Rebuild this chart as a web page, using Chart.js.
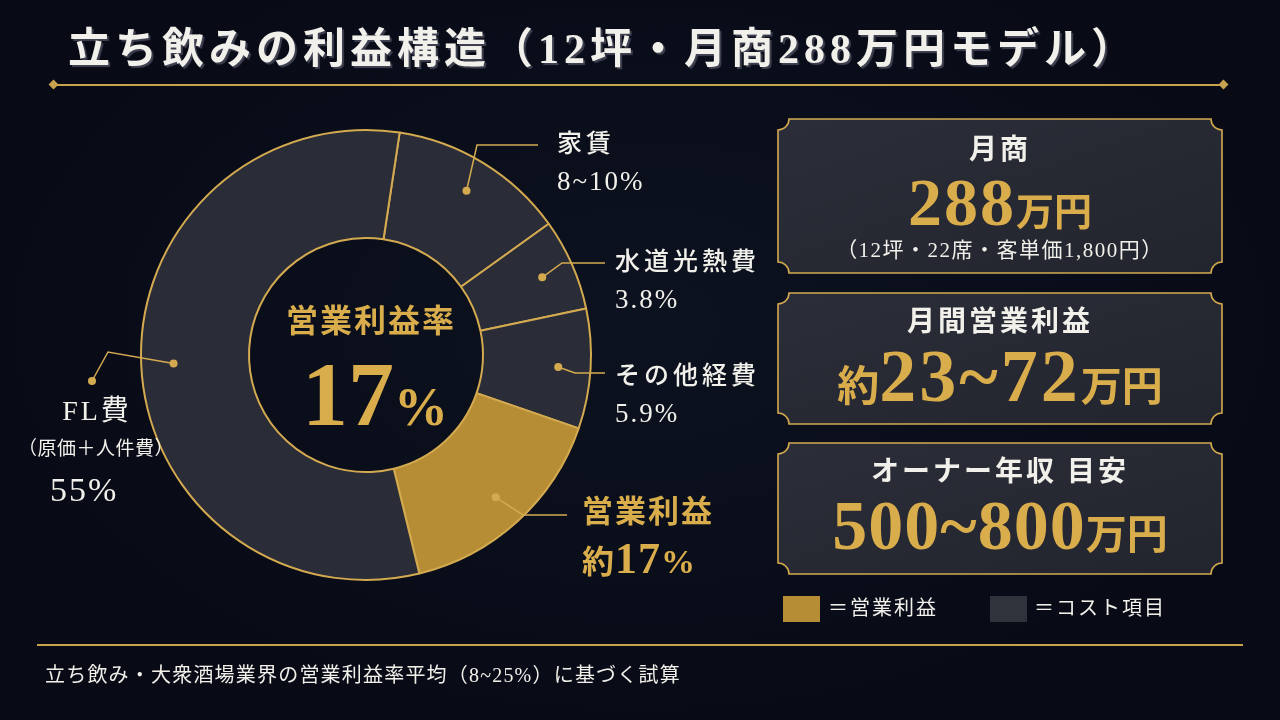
<!DOCTYPE html>
<html lang="ja">
<head>
<meta charset="utf-8">
<script src="https://cdn.jsdelivr.net/npm/chart.js"></script>
<style>
  html, body { margin: 0; padding: 0; background: #090d19; }
  #page { position: relative; width: 1280px; height: 720px; overflow: hidden;
    background: radial-gradient(ellipse at 50% 45%, #0d1220 0%, #080b16 75%);
    font-family: 'Liberation Serif', 'Noto Sans CJK JP', serif; color: #f2f0ea; }
  #chartBox { position: absolute; left: 0; top: 0; width: 1280px; height: 720px; }
  .t { position: absolute; white-space: nowrap; line-height: 1; }
  .gold { color: #d9ad4c; }
  .title { left: 68px; top: 28px; font-size: 42px; font-weight: 700; letter-spacing: 5px;
    text-shadow: 2px 2px 1px rgba(110,110,130,.55); }
  .hr { position: absolute; height: 2px; background: #c9a24e; }
  .diamond { position: absolute; width: 7px; height: 7px; background: #c9a24e; transform: rotate(45deg); }
  .lab { font-size: 25px; font-weight: 500; letter-spacing: 4px; }
  .pct { font-size: 27px; letter-spacing: 2px; }
  .box { position: absolute; }
  .box svg { position: absolute; left: 0; top: 0; }
  .box .in { position: absolute; left: 0; top: 0; width: 100%; text-align: center; }
  .head { font-size: 28px; font-weight: 700; letter-spacing: 3px; }
  .big { font-weight: 700; }
  .legend { font-size: 20px; letter-spacing: 2px; }
  .sw { position: absolute; width: 37px; height: 26px; }
</style>
</head>
<body>
<div id="page">
  <div id="chartBox"><canvas id="pie"></canvas></div>
</div>
<script>
// values (slice sizes as drawn, labels as printed)
const categories = ['家賃', '水道光熱費', 'その他経費', '営業利益', 'FL費'];
const drawnShares = [12.7, 6.6, 8.6, 15.9, 56.2];
const shareLabels = ['8~10%', '3.8%', '5.9%', '約17%', '55%'];
const profitRate = '17%';
const sliceColors = ['#2a2d37', '#2a2d37', '#2a2d37', '#b68d35', '#2a2d37'];

const cards = [
  { head: '月商', value: '288', unit: '万円', note: '（12坪・22席・客単価1,800円）' },
  { head: '月間営業利益', pre: '約', value: '23~72', unit: '万円' },
  { head: 'オーナー年収 目安', value: '500~800', unit: '万円' }
];
const legendItems = ['＝営業利益', '＝コスト項目'];
const titleText = '立ち飲みの利益構造（12坪・月商288万円モデル）';
const footText = '立ち飲み・大衆酒場業界の営業利益率平均（8~25%）に基づく試算';

const GOLD = '#d4aa50';
const page = document.getElementById('page');

function add(html) {
  page.insertAdjacentHTML('beforeend', html);
}

// title + rules
add(`<div class="t title">${titleText}</div>`);
add(`<div class="hr" style="left:56px;top:84px;width:1168px;"></div>`);
add(`<div class="diamond" style="left:50px;top:81px;"></div>`);
add(`<div class="diamond" style="left:1220px;top:81px;"></div>`);
add(`<div class="hr" style="left:37px;top:644px;width:1206px;height:1.5px;"></div>`);
add(`<div class="t" style="left:45px;top:665px;font-size:20px;letter-spacing:1.2px;">${footText}</div>`);

// centre of the donut
add(`<div class="t gold" style="left:271px;width:200px;text-align:center;top:305px;font-size:32px;font-weight:700;letter-spacing:2px;">営業利益率</div>`);
add(`<div class="t gold" style="left:245px;width:260px;text-align:center;top:348px;font-size:92px;font-weight:700;">${profitRate.replace('%', '<span style="font-size:54px">%</span>')}</div>`);

// slice labels
const labelPos = [
  { x: 557, y: 131 }, { x: 615, y: 249 }, { x: 615, y: 363 }, { x: 582, y: 496 }, { x: 20, y: 397 }
];
categories.forEach((c, i) => {
  const p = labelPos[i];
  if (i === 3) {
    add(`<div class="t gold" style="left:${p.x}px;top:${p.y}px;font-size:31px;font-weight:700;letter-spacing:2px;">${c}</div>`);
    add(`<div class="t gold" style="left:${p.x}px;top:${p.y + 41}px;font-size:32px;font-weight:700;letter-spacing:1px;">${shareLabels[i].replace(/(\d+)%/, '<span style="font-size:44px">$1</span><span style="font-size:34px">%</span>')}</div>`);
  } else if (i === 4) {
    add(`<div class="t" style="left:${p.x + 2}px;width:150px;text-align:center;top:${p.y}px;font-size:28px;letter-spacing:3px;">FL費</div>`);
    add(`<div class="t" style="left:${p.x - 4}px;width:160px;text-align:center;top:${p.y + 42}px;font-size:19px;letter-spacing:0.5px;">（原価＋人件費）</div>`);
    add(`<div class="t" style="left:${p.x + 30}px;top:${p.y + 76}px;font-size:34px;letter-spacing:2px;">${shareLabels[i]}</div>`);
  } else {
    add(`<div class="t lab" style="left:${p.x}px;top:${p.y}px;">${c}</div>`);
    add(`<div class="t pct" style="left:${p.x}px;top:${p.y + 37}px;">${shareLabels[i]}</div>`);
  }
});

// right-hand cards with notched corners
function notch(w, h, r) {
  return `M${r},1 H${w - r} A${r - 1},${r - 1} 0 0 0 ${w - 1},${r} V${h - r} A${r - 1},${r - 1} 0 0 0 ${w - r},${h - 1} H${r} A${r - 1},${r - 1} 0 0 0 1,${h - r} V${r} A${r - 1},${r - 1} 0 0 0 ${r},1 Z`;
}
const cardBoxes = [{ x: 777, y: 118, h: 156 }, { x: 777, y: 292, h: 133 }, { x: 777, y: 442, h: 133 }];
const valueSizes = [68, 74, 70];
const valueSpacing = [2, 3, 1];
cards.forEach((c, i) => {
  const b = cardBoxes[i], w = 446;
  let inner = `<div class="t head" style="position:relative;display:block;">${c.head}</div>`;
  const val = (c.pre ? `<span style="font-size:42px">${c.pre}</span>` : '') +
    `<span style="font-size:${valueSizes[i]}px;letter-spacing:${valueSpacing[i]}px">${c.value}</span>` +
    `<span style="font-size:${i === 0 ? 38 : 41}px">${c.unit}</span>`;
  inner += `<div class="t gold big" style="position:relative;display:block;margin-top:${i === 0 ? 4 : i === 1 ? 3 : 5}px;">${val}</div>`;
  if (c.note) inner += `<div class="t" style="position:relative;display:block;font-size:21px;letter-spacing:1.5px;margin-top:4px;">${c.note}</div>`;
  add(`<div class="box" style="left:${b.x}px;top:${b.y}px;width:${w}px;height:${b.h}px;">
    <svg width="${w}" height="${b.h}"><defs><linearGradient id="g${i}" x1="0" y1="0" x2="1" y2="1">
      <stop offset="0" stop-color="#2b2e38"/><stop offset="1" stop-color="#22252e"/></linearGradient></defs>
      <path d="${notch(w, b.h, 12)}" fill="url(#g${i})" stroke="${GOLD}" stroke-width="1.6"/></svg>
    <div class="in" style="top:${i === 0 ? 18 : 16}px;">${inner}</div></div>`);
});

// legend
add(`<div class="sw" style="left:783px;top:596px;background:#b68d35;"></div>`);
add(`<div class="t legend" style="left:828px;top:598px;">${legendItems[0]}</div>`);
add(`<div class="sw" style="left:990px;top:596px;background:#30333c;"></div>`);
add(`<div class="t legend" style="left:1034px;top:598px;">${legendItems[1]}</div>`);

// leader line bends (layout only)
const leaders = [
  [[477, 145], [538, 145]],
  [[562, 263], [605, 263]],
  [[575, 373], [605, 373]],
  [[523, 515], [567, 515]],
  [[108, 352], [92, 381]]
];

const leaderPlugin = {
  id: 'leaders',
  afterDatasetsDraw(chart) {
    const ctx = chart.ctx;
    const arcs = chart.getDatasetMeta(0).data;
    ctx.save();
    ctx.strokeStyle = GOLD;
    ctx.fillStyle = GOLD;
    ctx.lineWidth = 1.5;
    arcs.forEach((arc, i) => {
      const p = arc.getProps(['x', 'y', 'startAngle', 'endAngle', 'innerRadius', 'outerRadius'], true);
      const a = (p.startAngle + p.endAngle) / 2;
      const r = p.innerRadius + 0.7 * (p.outerRadius - p.innerRadius);
      const dx = p.x + Math.cos(a) * r, dy = p.y + Math.sin(a) * r;
      ctx.beginPath();
      ctx.moveTo(dx, dy);
      leaders[i].forEach(pt => ctx.lineTo(pt[0], pt[1]));
      ctx.stroke();
      ctx.beginPath();
      ctx.arc(dx, dy, 4, 0, Math.PI * 2);
      ctx.fill();
      if (i === 4) {
        const e = leaders[i][leaders[i].length - 1];
        ctx.beginPath();
        ctx.arc(e[0], e[1], 4, 0, Math.PI * 2);
        ctx.fill();
      }
    });
    ctx.restore();
  }
};

new Chart(document.getElementById('pie'), {
  type: 'doughnut',
  data: {
    labels: categories,
    datasets: [{
      data: drawnShares,
      backgroundColor: sliceColors,
      borderColor: GOLD,
      borderWidth: 2,
      hoverOffset: 0
    }]
  },
  options: {
    responsive: true,
    maintainAspectRatio: false,
    animation: false,
    rotation: 8.6,
    cutout: '52%',
    layout: { padding: { left: 140, top: 129, right: 688, bottom: 139 } },
    plugins: { legend: { display: false }, tooltip: { enabled: false } }
  },
  plugins: [leaderPlugin]
});
</script>
</body>
</html>
